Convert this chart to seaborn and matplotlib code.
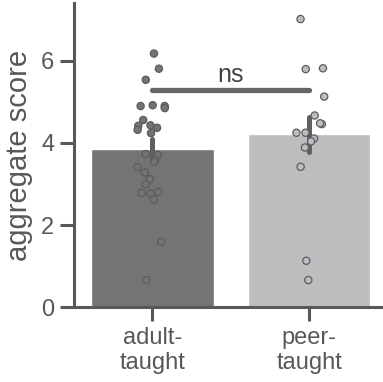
import numpy as np
import pandas as pd
import matplotlib
matplotlib.use('Agg')
import matplotlib.pyplot as plt
import seaborn as sns

# data
groups = ['adult-\ntaught', 'peer-\ntaught']
adult_scores = [6.18, 5.81, 5.54, 4.92, 4.90, 4.85, 4.90, 4.56, 4.42, 4.43,
                4.32, 4.24, 4.37, 3.73, 3.71, 3.59, 3.41, 3.54, 3.28, 3.12,
                2.99, 2.81, 2.77, 2.78, 2.62, 1.59, 0.66]
peer_scores = [7.02, 5.80, 5.82, 5.13, 4.67, 4.46, 4.48, 4.25, 4.25, 4.11,
               4.04, 3.89, 3.42, 1.13, 0.66]
sig_label = 'ns'

df = pd.DataFrame({
    'group': [groups[0]] * len(adult_scores) + [groups[1]] * len(peer_scores),
    'score': adult_scores + peer_scores,
})

sns.set_style('ticks')
plt.rcParams['font.family'] = ['Liberation Sans', 'DejaVu Sans']

bar_colors = {groups[0]: '#747477', groups[1]: '#bcbdc1'}
ink = '#58585a'

fig = plt.figure(figsize=(3.83, 3.82), dpi=100)
ax = fig.add_axes([0.193, 0.196, 0.807, 0.796])

sns.barplot(data=df, x='group', y='score', hue='group', order=groups,
            palette=bar_colors, width=0.78, errorbar='se', legend=False,
            err_kws={'color': '#606062', 'linewidth': 3.6,
                     'solid_capstyle': 'round'}, ax=ax)

np.random.seed(3)
sns.stripplot(data=df, x='group', y='score', hue='group', order=groups,
              palette=bar_colors, jitter=0.1, size=5.2, edgecolor='#5c5c5e',
              linewidth=0.9, legend=False, ax=ax)

# significance bar
ax.plot([0, 1], [5.28, 5.28], color='#666668', linewidth=3.8,
        solid_capstyle='round')
ax.text(0.5, 5.36, sig_label, ha='center', va='bottom', fontsize=18,
        color='#444446')

ax.set_xlim(-0.5, 1.47)
ax.set_ylim(0, 7.41)
ax.set_yticks([0, 2, 4, 6])
ax.set_xlabel('')
ax.set_ylabel('aggregate score', fontsize=21, color='#58585a', labelpad=6)
ax.tick_params(axis='both', labelsize=17, colors=ink, length=10, width=2.2,
               labelcolor='#58585a', pad=4)
for side in ['left', 'bottom']:
    ax.spines[side].set_linewidth(2.2)
    ax.spines[side].set_color(ink)
sns.despine(ax=ax)

fig.savefig('out.png', dpi=100)
